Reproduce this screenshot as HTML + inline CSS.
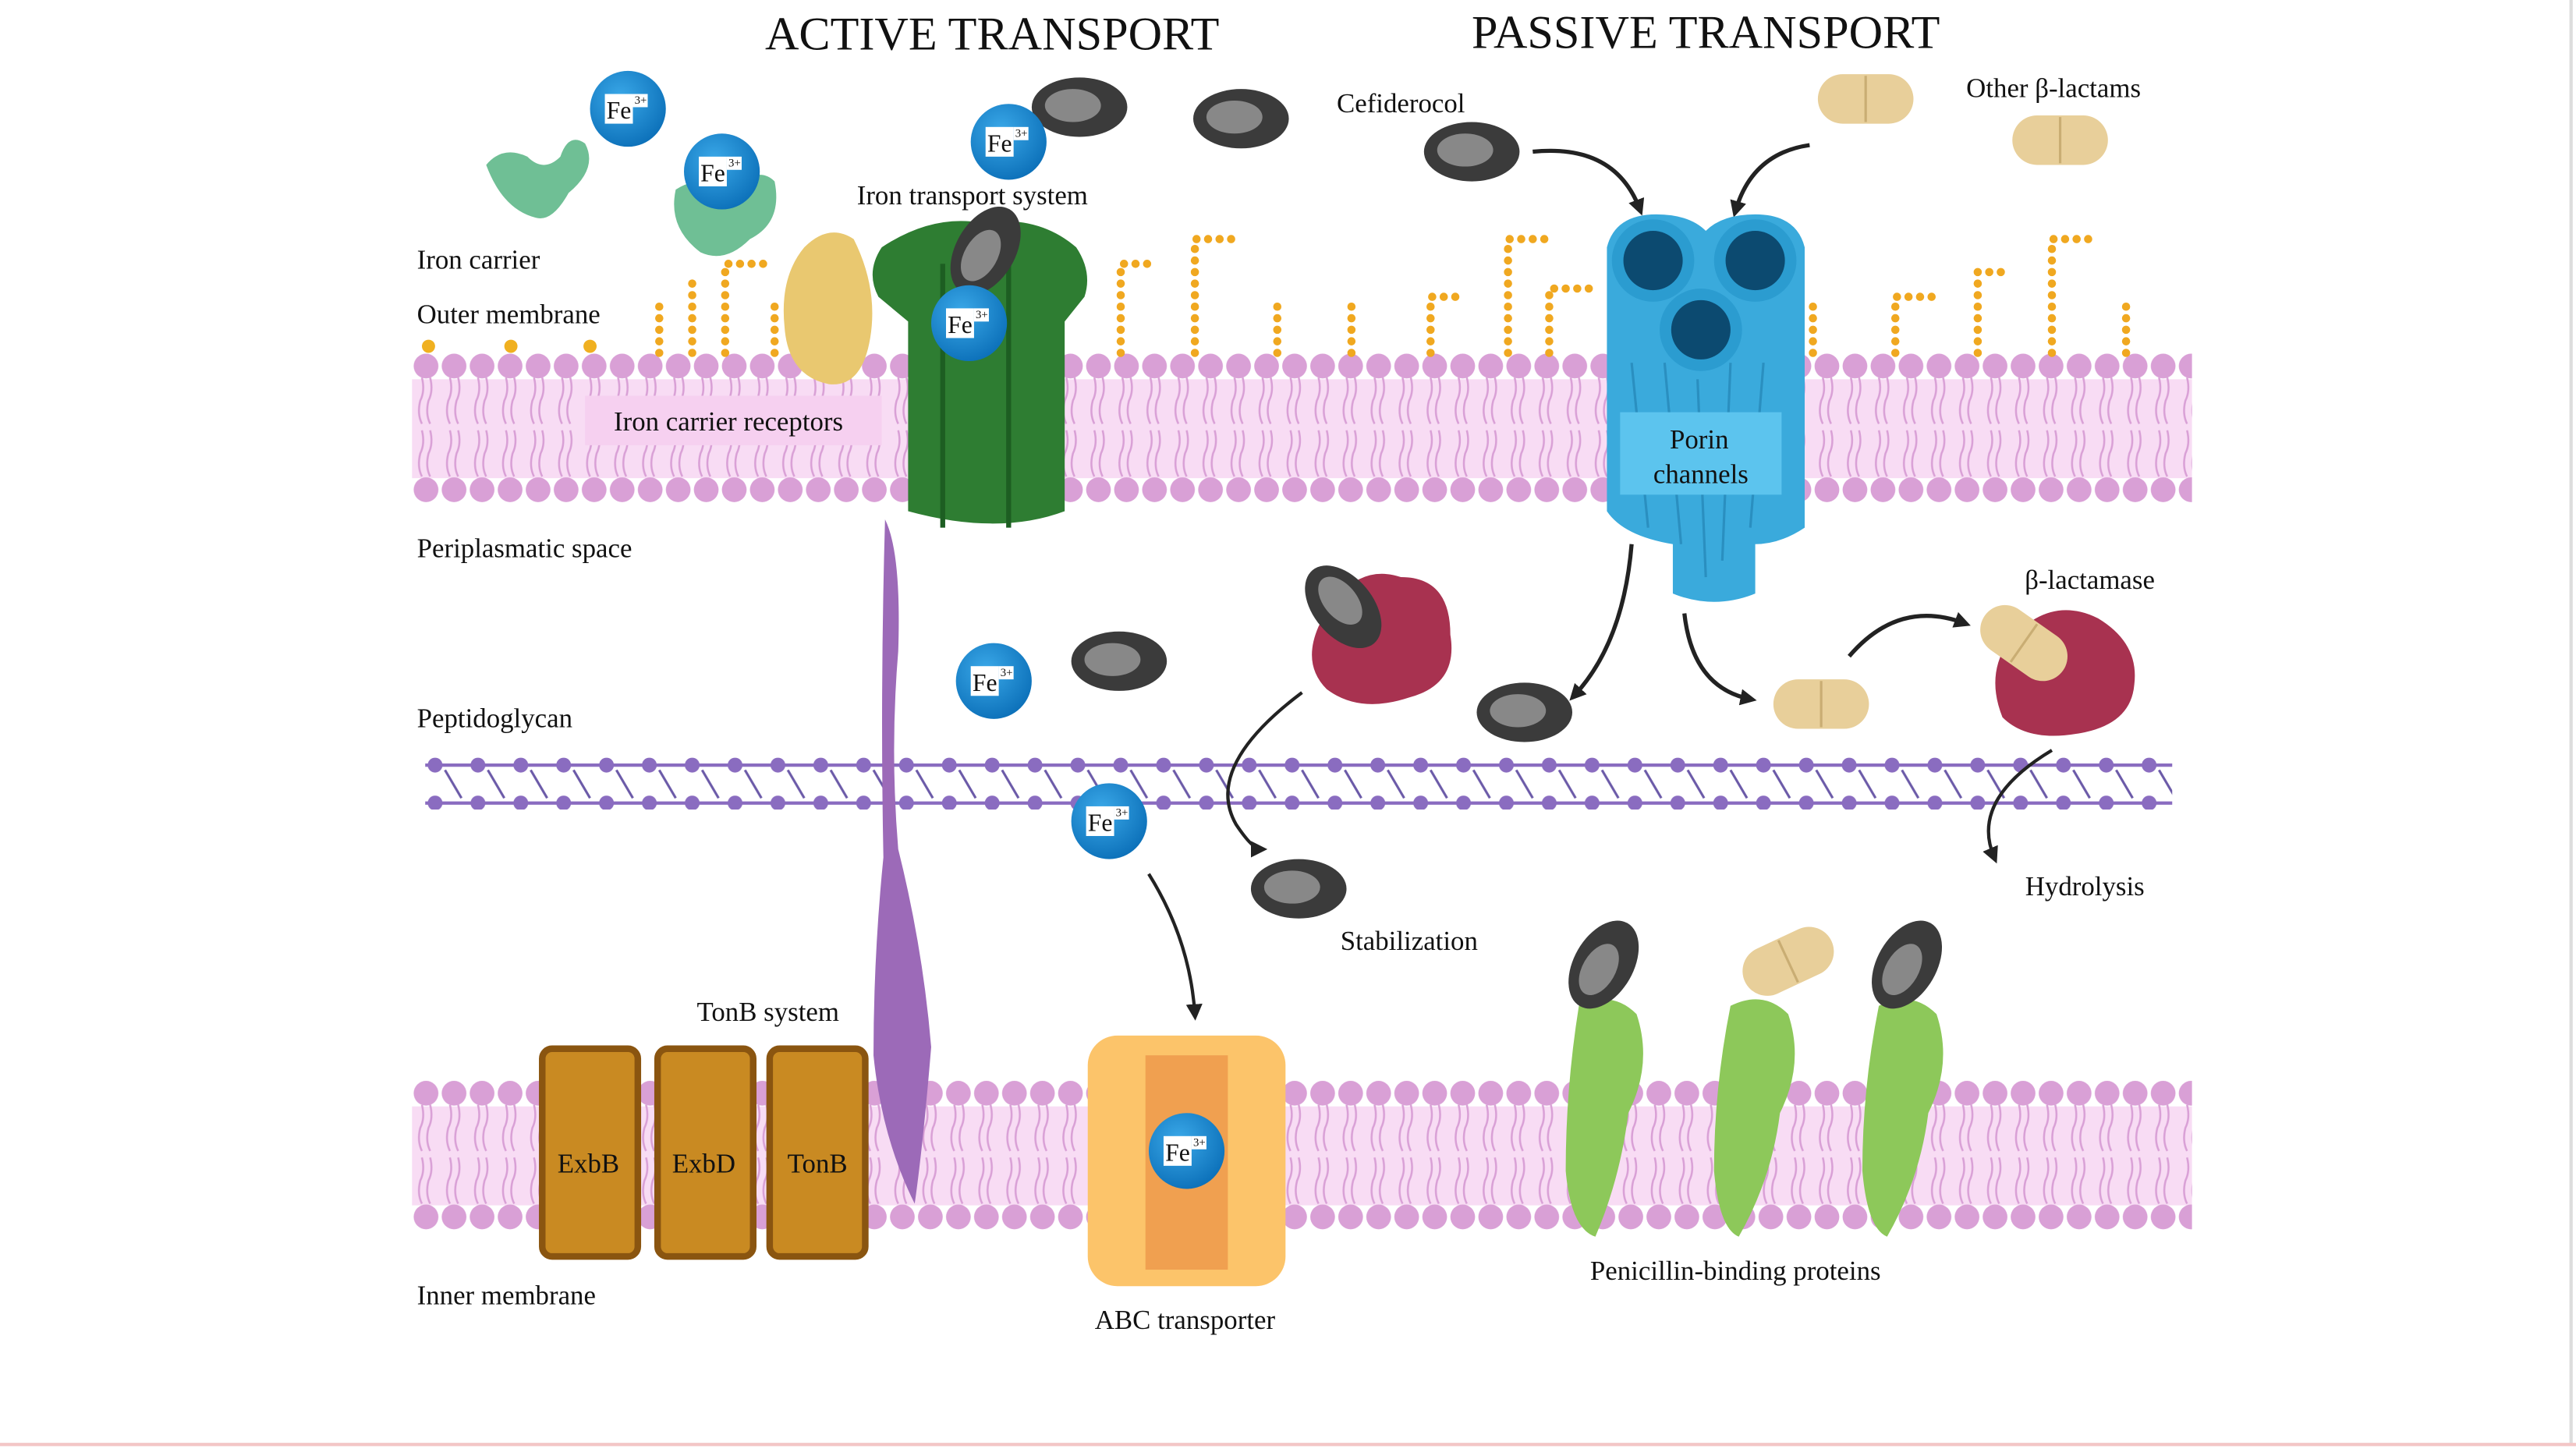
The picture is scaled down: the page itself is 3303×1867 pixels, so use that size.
<!DOCTYPE html>
<html><head><meta charset="utf-8"><style>
html,body{margin:0;padding:0;background:#fff;}
svg{display:block;}
text{font-family:"Liberation Serif",serif;fill:#111;}
</style></head><body>
<svg width="3303" height="1867" viewBox="0 0 1563 883" preserveAspectRatio="none" xmlns="http://www.w3.org/2000/svg">
<defs>
<g id="htile">
<circle cx="8.5" cy="8" r="7.5" fill="#d9a0d6"/>
<circle cx="8.5" cy="83" r="7.5" fill="#d9a0d6"/>
<path d="M6 15 q2 8 -1 14 q-2 8 1 14 M11 15 q2 8 -1 14 q-2 8 1 14 M6 47 q2 8 -1 14 q-2 8 1 14 M11 47 q2 8 -1 14 q-2 8 1 14" stroke="#d9a0d6" stroke-width="1.2" fill="none"/>
</g>
<pattern id="heads1" x="250" y="214" width="17" height="92" patternUnits="userSpaceOnUse"><use href="#htile"/></pattern>
<pattern id="heads2" x="250" y="655" width="17" height="92" patternUnits="userSpaceOnUse"><use href="#htile"/></pattern>
<pattern id="pg" x="258" y="459" width="26" height="32" patternUnits="userSpaceOnUse">
<circle cx="6" cy="5" r="4.5" fill="#8a6cc0"/>
<circle cx="6" cy="28" r="4.5" fill="#8a6cc0"/>
<line x1="12" y1="8" x2="22" y2="25" stroke="#6b5aa8" stroke-width="1.5"/>
</pattern>
<radialGradient id="fe" cx="0.4" cy="0.35" r="0.7"><stop offset="0" stop-color="#3aa8e8"/><stop offset="1" stop-color="#0b6fb8"/></radialGradient>
<marker id="ar" markerWidth="10" markerHeight="10" refX="6" refY="5" orient="auto" markerUnits="userSpaceOnUse"><path d="M0 0 L10 5 L0 10 z" fill="#222"/></marker>
<g id="fegrp"><circle r="23" fill="url(#fe)"/><rect x="-14" y="-9" width="17" height="18" fill="#fff"/><text x="-13" y="6" font-size="15">Fe</text><rect x="3" y="-9" width="9" height="8" fill="#fff"/><text x="4" y="-3" font-size="7">3+</text></g>
<g id="cef"><ellipse rx="29" ry="18" fill="#3b3b3b"/><ellipse cx="-4" cy="-1" rx="17" ry="10" fill="#888"/></g>
<g id="pill"><rect x="-29" y="-15" width="58" height="30" rx="15" fill="#e8cf9a"/><line x1="0" y1="-14" x2="0" y2="14" stroke="#c9ad73" stroke-width="1.5"/></g>
</defs>
<rect width="1563" height="883" fill="#fff"/>
<line x1="1560" y1="0" x2="1560" y2="876" stroke="#ddd" stroke-width="2"/>
<line x1="0" y1="876" x2="1563" y2="876" stroke="#f3c6c6" stroke-width="2"/>

<text x="602" y="30" font-size="28.5" text-anchor="middle">ACTIVE TRANSPORT</text>
<text x="1035" y="29" font-size="28.5" text-anchor="middle">PASSIVE TRANSPORT</text>

<rect x="250" y="230" width="1080" height="60" fill="#f8dcf4"/>
<rect x="250" y="214" width="1080" height="92" fill="url(#heads1)"/>
<rect x="250" y="671" width="1080" height="60" fill="#f8dcf4"/>
<rect x="250" y="655" width="1080" height="92" fill="url(#heads2)"/>
<line x1="258" y1="464" x2="1318" y2="464" stroke="#8a6cc0" stroke-width="2"/>
<line x1="258" y1="487" x2="1318" y2="487" stroke="#8a6cc0" stroke-width="2"/>
<rect x="258" y="459" width="1060" height="32" fill="url(#pg)"/>

<g stroke="#f0a820" stroke-width="5" stroke-dasharray="0 7" stroke-linecap="round" fill="none">
<path d="M400 214 V180 M420 214 V170 M440 214 V160 H470 M470 214 V185 M680 214 V160 H700 M725 214 V145 H750 M775 214 V185 M820 214 V185 M868 214 V180 H890 M915 214 V145 H940 M940 214 V175 H965 M1100 214 V185 M1150 214 V180 H1175 M1200 214 V165 H1220 M1245 214 V145 H1270 M1290 214 V185"/>
</g>
<g fill="#f0b020"><circle cx="260" cy="210" r="4"/><circle cx="310" cy="210" r="4"/><circle cx="358" cy="210" r="4"/></g>

<path d="M295 100 q10 -12 25 -5 q10 10 20 0 q5 -15 15 -8 q8 15 -10 30 q-10 18 -20 15 q-20 -5 -30 -32z" fill="#6fbf95"/>
<path d="M410 115 q15 -10 35 0 q15 -15 25 -5 q5 25 -15 35 q-15 15 -30 8 q-20 -15 -15 -38z" fill="#6fbf95"/>
<use href="#fegrp" x="381" y="66"/>
<use href="#fegrp" x="438" y="104"/>
<text x="253" y="163" font-size="16.5">Iron carrier</text>
<text x="253" y="196" font-size="16.5">Outer membrane</text>
<path d="M488 150 q15 -15 30 -5 q15 30 10 60 q-5 30 -25 28 q-25 -5 -27 -35 q-3 -30 12 -48z" fill="#e9c870"/>
<rect x="355" y="240" width="180" height="30" fill="#f6d0f0"/>
<text x="442" y="261" font-size="16.5" text-anchor="middle">Iron carrier receptors</text>

<path d="M535 150 q30 -20 60 -15 q35 -5 58 15 q10 15 5 30 l-12 15 v115 q-40 15 -95 0 v-115 l-18 -15 q-8 -15 2 -30z" fill="#2e7d32"/>
<path d="M572 160 v160 M612 160 v160" stroke="#1d5e22" stroke-width="3"/>
<use href="#cef" x="598" y="152" transform="rotate(-60 598 152)"/>
<use href="#fegrp" x="588" y="196"/>
<use href="#cef" x="655" y="65"/>
<use href="#cef" x="753" y="72"/>
<use href="#fegrp" x="612" y="86"/>
<text x="590" y="124" font-size="16.5" text-anchor="middle">Iron transport system</text>

<path d="M537 315 q10 20 8 80 q-5 60 0 120 q15 60 20 120 q-5 60 -10 95 q-20 -40 -25 -90 q0 -60 6 -120 q-2 -100 1 -205z" fill="#9c6ab8"/>

<text x="253" y="338" font-size="16.5">Periplasmatic space</text>
<text x="253" y="441" font-size="16.5">Peptidoglycan</text>
<text x="253" y="791" font-size="16.5">Inner membrane</text>
<text x="466" y="619" font-size="16.5" text-anchor="middle">TonB system</text>

<g stroke="#8a5510" stroke-width="4" fill="#c98a22">
<rect x="329" y="636" width="58" height="126" rx="6"/>
<rect x="399" y="636" width="58" height="126" rx="6"/>
<rect x="467" y="636" width="58" height="126" rx="6"/>
</g>
<text x="357" y="711" font-size="16.5" text-anchor="middle">ExbB</text>
<text x="427" y="711" font-size="16.5" text-anchor="middle">ExbD</text>
<text x="496" y="711" font-size="16.5" text-anchor="middle">TonB</text>

<rect x="660" y="628" width="120" height="152" rx="18" fill="#fcc46a"/>
<rect x="695" y="640" width="50" height="130" fill="#f0a050"/>
<use href="#fegrp" x="720" y="698"/>
<text x="719" y="806" font-size="16.5" text-anchor="middle">ABC transporter</text>

<use href="#fegrp" x="603" y="413"/>
<use href="#cef" x="679" y="401"/>
<use href="#fegrp" x="673" y="498"/>
<path d="M697 530 q25 40 28 85" stroke="#222" stroke-width="2" fill="none" marker-end="url(#ar)"/>

<path d="M800 380 q20 -40 50 -30 q30 0 30 35 q5 30 -25 38 q-30 10 -50 -5 q-15 -15 -5 -38z" fill="#a83250"/>
<use href="#cef" x="815" y="368" transform="rotate(50 815 368)"/>
<path d="M790 420 q-60 45 -40 80 q10 15 15 15" stroke="#222" stroke-width="2" fill="none" marker-end="url(#ar)"/>
<use href="#cef" x="788" y="539"/>
<text x="855" y="576" font-size="16.5" text-anchor="middle">Stabilization</text>

<text x="850" y="68" font-size="16.5" text-anchor="middle">Cefiderocol</text>
<use href="#cef" x="893" y="92"/>
<use href="#pill" x="1132" y="60"/>
<use href="#pill" x="1250" y="85"/>
<text x="1246" y="59" font-size="16.5" text-anchor="middle">Other β-lactams</text>
<path d="M930 92 q50 -5 65 35" stroke="#222" stroke-width="2.5" fill="none" marker-end="url(#ar)"/>
<path d="M1098 88 q-35 5 -45 40" stroke="#222" stroke-width="2.5" fill="none" marker-end="url(#ar)"/>
<path d="M975 150 q5 -20 30 -20 q20 0 30 10 q10 -10 30 -10 q25 0 30 20 v170 q-15 10 -30 10 v30 q-25 10 -50 0 v-30 q-30 -5 -40 -20z" fill="#3aaadc"/>
<g stroke="#2a8fc0" stroke-width="1.5"><path d="M990 220 l10 100 M1010 220 l10 110 M1030 230 l5 120 M1050 220 l-5 120 M1070 220 l-8 100"/></g>
<circle cx="1003" cy="158" r="25" fill="#2b9cd0"/><circle cx="1003" cy="158" r="18" fill="#0c4a70"/>
<circle cx="1065" cy="158" r="25" fill="#2b9cd0"/><circle cx="1065" cy="158" r="18" fill="#0c4a70"/>
<circle cx="1032" cy="200" r="25" fill="#2b9cd0"/><circle cx="1032" cy="200" r="18" fill="#0c4a70"/>
<rect x="983" y="250" width="98" height="50" fill="#5cc4ee"/>
<text x="1031" y="272" font-size="16.5" text-anchor="middle">Porin</text>
<text x="1032" y="293" font-size="16.5" text-anchor="middle">channels</text>
<path d="M990 330 q-5 60 -35 92" stroke="#222" stroke-width="2.5" fill="none" marker-end="url(#ar)"/>
<path d="M1022 372 q5 45 40 52" stroke="#222" stroke-width="2.5" fill="none" marker-end="url(#ar)"/>
<use href="#cef" x="925" y="432"/>
<use href="#pill" x="1105" y="427"/>
<path d="M1122 398 q30 -35 70 -20" stroke="#222" stroke-width="2.5" fill="none" marker-end="url(#ar)"/>
<path d="M1218 390 q25 -30 55 -15 q25 15 22 40 q-2 25 -35 30 q-30 5 -45 -10 q-10 -25 3 -45z" fill="#a83250"/>
<use href="#pill" x="1228" y="390" transform="rotate(35 1228 390)"/>
<text x="1268" y="357" font-size="16.5" text-anchor="middle">β-lactamase</text>
<path d="M1245 455 q-50 30 -35 65" stroke="#222" stroke-width="2" fill="none" marker-end="url(#ar)"/>
<text x="1265" y="543" font-size="16.5" text-anchor="middle">Hydrolysis</text>

<g fill="#8dc85a">
<path d="M958 610 q20 -10 35 5 q10 30 -5 60 q-5 40 -20 75 q-15 -5 -18 -40 q0 -50 8 -100z"/>
<path d="M1050 610 q20 -10 35 5 q10 30 -5 60 q-5 40 -25 75 q-12 -5 -15 -40 q0 -50 10 -100z"/>
<path d="M1140 610 q20 -10 35 5 q10 30 -5 60 q-5 40 -25 75 q-12 -5 -15 -40 q0 -50 10 -100z"/>
</g>
<use href="#cef" x="973" y="585" transform="rotate(-60 973 585)"/>
<use href="#pill" x="1085" y="583" transform="rotate(-25 1085 583)"/>
<use href="#cef" x="1157" y="585" transform="rotate(-60 1157 585)"/>
<text x="1053" y="776" font-size="16.5" text-anchor="middle">Penicillin-binding proteins</text>
</svg>
</body></html>
